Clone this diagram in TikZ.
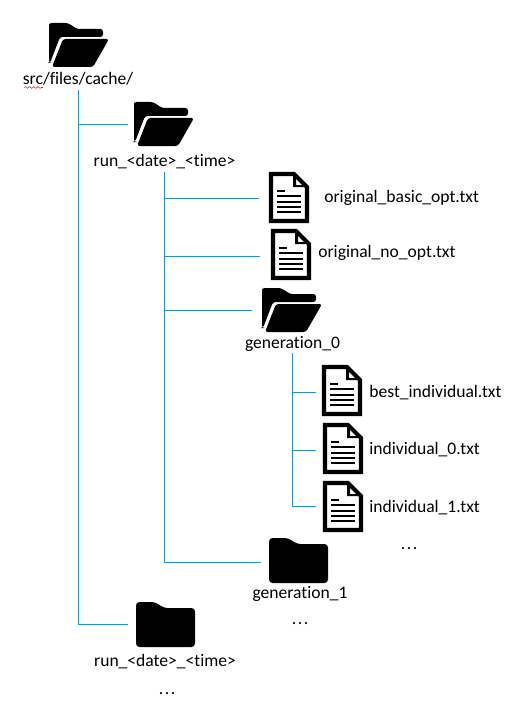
\documentclass[tikz,border=0pt]{standalone}
\usepackage{fontspec}
\setmainfont[Ligatures=NoCommon]{Carlito}
\usetikzlibrary{decorations.pathmorphing}
\definecolor{branchblue}{HTML}{2593C4}
\newcommand{\spaceddots}{.\hspace{0.09em}.\hspace{0.09em}.}
\tikzset{
    branch/.style={draw=branchblue, line width=0.6pt},
    lbl/.style={inner sep=0pt, text depth=2.8pt, anchor=base, font=\fontsize{10}{12}\selectfont},
    filelbl/.style={lbl, anchor=base west},
    pics/openfolder/.style={code={
        \fill[rounded corners=1.5] (0,1) -- (0,40) -- (1,40) -- (11,14) -- (54,14) -- (54,6) -- (28,6) -- (19,0) -- (0,0) -- cycle;
        \fill[rounded corners=1.5] (14,16) -- (60,16) -- (44,44) -- (3,44) -- cycle;
    }},
    pics/closedfolder/.style={code={
        \fill[rounded corners=2] (0,0) -- (19,0) -- (28,6) -- (59,6) -- (59,45) -- (0,45) -- cycle;
    }},
    pics/docfile/.style={code={
        \draw[line width=2.3pt, miter limit=2] (2,2) -- (25,2) -- (38,15) -- (38,49) -- (2,49) -- cycle;
        \fill (24,2) -- (24,15) -- (38,15) -- (38,13) -- (27,13) -- (27,2) -- cycle;
        \fill (8,18) rectangle (16,20);
        \foreach \y in {23,28.5,34,39}
            \fill (8,\y) rectangle (32,\y+2);
    }},
}
\begin{document}
\begin{tikzpicture}[x=0.02cm, y=-0.02cm]
    \useasboundingbox (0,0) rectangle (514,713);
    % Folders
    \pic at (49,23) {openfolder};
    \pic at (134,102) {openfolder};
    \pic at (262,288) {openfolder};
    \pic at (269,538) {closedfolder};
    \pic at (136,602) {closedfolder};
    % Files
    \pic at (269,172) {docfile};
    \pic at (271,229) {docfile};
    \pic at (322,365) {docfile};
    \pic at (323,423) {docfile};
    \pic at (323,481) {docfile};
    % Labels
    \node[lbl] (cache) at (78,85) {src/files/cache/};
    \node[lbl] (rundir) at (164.5,166.7) {run\_<date>\_<time>};
    \node[filelbl] (basicopt) at (324,202.7) {original\_basic\_opt.txt};
    \node[filelbl] (noopt) at (318,257.7) {original\_no\_opt.txt};
    \node[lbl] (genzero) at (292.5,348) {generation\_0};
    \node[filelbl] (bestind) at (369,397) {best\_individual.txt};
    \node[filelbl] (indzero) at (369,454) {individual\_0.txt};
    \node[filelbl] (indone) at (369,512) {individual\_1.txt};
    \node[lbl] (gendots) at (409,549) {\spaceddots};
    \node[lbl] (genone) at (300,598.7) {generation\_1};
    \node[lbl] (rundots) at (300,624) {\spaceddots};
    \node[lbl] (runtwo) at (165,666.7) {run\_<date>\_<time>};
    \node[lbl] (lastdots) at (167,694) {\spaceddots};
    % Spelling mark
    \draw[red, line width=0.3pt, decorate, decoration={snake, amplitude=0.5pt, segment length=2.4pt}] (24,87.5) -- (43,87.5);
    % Branch ends
    \coordinate (runend) at (128,124.5);
    \coordinate (lastend) at (128,624.5);
    \coordinate (basicend) at (259,198.5);
    \coordinate (nooptend) at (260,256.5);
    \coordinate (genzeroend) at (252,310.5);
    \coordinate (genoneend) at (261,562.5);
    \coordinate (bestend) at (316,392.5);
    \coordinate (indzeroend) at (316,450.5);
    \coordinate (indoneend) at (316,506.5);
    % Branches
    \draw[branch] (78.5,90) -- (78.5,624.5) -- (lastend);
    \draw[branch] (78.5,124.5) -- (runend);
    \draw[branch] (rundir.south) |- (genoneend);
    \draw[branch] (rundir.south |- basicend) -- (basicend);
    \draw[branch] (rundir.south |- nooptend) -- (nooptend);
    \draw[branch] (rundir.south |- genzeroend) -- (genzeroend);
    \draw[branch] (genzero.south) |- (indoneend);
    \draw[branch] (genzero.south |- bestend) -- (bestend);
    \draw[branch] (genzero.south |- indzeroend) -- (indzeroend);
\end{tikzpicture}
\end{document}
